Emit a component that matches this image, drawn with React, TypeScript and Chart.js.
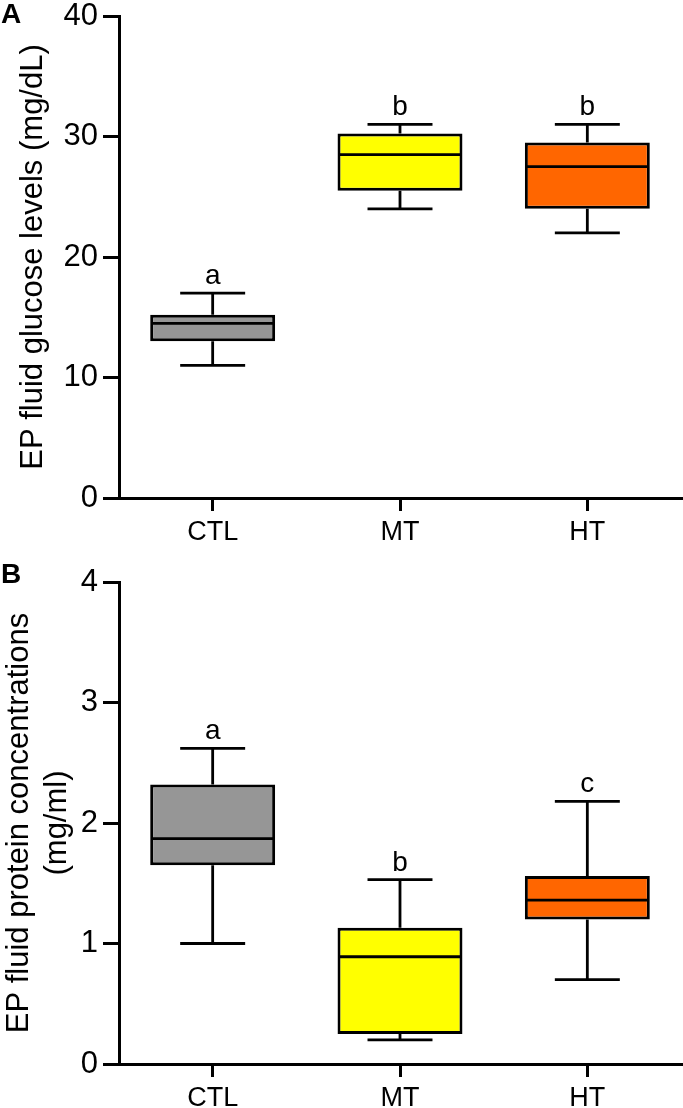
import React, { useEffect, useRef } from 'react';
import { Chart, registerables } from 'chart.js';

Chart.register(...registerables);

const FONT = '"Liberation Sans", Arial, Helvetica, sans-serif';

const categories = ['CTL', 'MT', 'HT'];
const boxColors = ['#969696', '#FFFF00', '#FF6600'];

// Panel A: glucose (mg/dL)
const glucoseMin = [11, 24, 22];
const glucoseQ1 = [13, 25.5, 24];
const glucoseMedian = [14.5, 28.5, 27.5];
const glucoseQ3 = [15.2, 30.25, 29.5];
const glucoseMax = [17, 31, 31];
const glucoseLetters = ['a', 'b', 'b'];
const glucoseTicks = [0, 10, 20, 30, 40];

// Panel B: protein (mg/ml)
const proteinMin = [1.0, 0.2, 0.7];
const proteinQ1 = [1.65, 0.25, 1.2];
const proteinMedian = [1.87, 0.89, 1.36];
const proteinQ3 = [2.32, 1.13, 1.56];
const proteinMax = [2.62, 1.53, 2.18];
const proteinLetters = ['a', 'b', 'c'];
const proteinTicks = [0, 1, 2, 3, 4];

type PanelSpec = {
  panel: string;
  panelY: number;
  min: number[];
  q1: number[];
  median: number[];
  q3: number[];
  max: number[];
  letters: string[];
  ticks: number[];
  title: string | string[];
  titleLineHeight: number;
  titlePadTop: number;
  height: number;
  areaTop: number;
  areaBottom: number;
};

function makeBoxPlugin(spec: PanelSpec) {
  return {
    id: 'boxExtras' + spec.panel,
    afterDatasetsDraw(chart: any) {
      const { ctx } = chart;
      const meta = chart.getDatasetMeta(0);
      const y = chart.scales.y;
      ctx.save();
      ctx.strokeStyle = '#000';
      ctx.fillStyle = '#000';
      ctx.lineWidth = 2.8;
      meta.data.forEach((bar: any, i: number) => {
        const { x, width } = bar.getProps(['x', 'width'], true);
        const half = width / 2;
        const cap = width * 0.26;
        const yMin = y.getPixelForValue(spec.min[i]);
        const yQ1 = y.getPixelForValue(spec.q1[i]);
        const yMed = y.getPixelForValue(spec.median[i]);
        const yQ3 = y.getPixelForValue(spec.q3[i]);
        const yMax = y.getPixelForValue(spec.max[i]);
        ctx.beginPath();
        ctx.moveTo(x - half + 1, yMed);
        ctx.lineTo(x + half - 1, yMed);
        // upper whisker
        ctx.moveTo(x, yQ3);
        ctx.lineTo(x, yMax);
        ctx.moveTo(x - cap, yMax);
        ctx.lineTo(x + cap, yMax);
        // lower whisker
        ctx.moveTo(x, yQ1);
        ctx.lineTo(x, yMin);
        ctx.moveTo(x - cap, yMin);
        ctx.lineTo(x + cap, yMin);
        ctx.stroke();
        ctx.font = `28px ${FONT}`;
        ctx.textAlign = 'center';
        ctx.textBaseline = 'alphabetic';
        ctx.fillText(spec.letters[i], x, yMax - 9);
      });
      ctx.font = `bold 28px ${FONT}`;
      ctx.textAlign = 'left';
      ctx.textBaseline = 'alphabetic';
      ctx.fillText(spec.panel, 1, spec.panelY);
      ctx.restore();
    },
  };
}

function BoxPanel({ spec }: { spec: PanelSpec }) {
  const ref = useRef<HTMLCanvasElement | null>(null);
  useEffect(() => {
    if (!ref.current) return;
    const xHeight = spec.height - spec.areaBottom;
    const chart = new Chart(ref.current, {
      type: 'bar',
      data: {
        labels: categories,
        datasets: [
          {
            data: spec.q1.map((v, i) => [v, spec.q3[i]]) as any,
            backgroundColor: boxColors,
            borderColor: '#000',
            borderWidth: 3,
            borderSkipped: false,
            barPercentage: 0.667,
            categoryPercentage: 1,
          },
        ],
      },
      options: {
        responsive: false,
        animation: false,
        devicePixelRatio: 1,
        layout: { padding: { top: spec.areaTop, left: 0, right: 2, bottom: 0 } },
        plugins: { legend: { display: false }, tooltip: { enabled: false } },
        scales: {
          x: {
            type: 'category',
            offset: true,
            grid: {
              offset: false,
              drawOnChartArea: false,
              color: '#000',
              tickColor: '#000',
              tickLength: 13,
              lineWidth: 3,
              tickWidth: 3,
            },
            border: { color: '#000', width: 3 },
            ticks: { color: '#000', font: { family: FONT, size: 27 }, padding: 5, maxRotation: 0 },
            afterFit: (s: any) => {
              s.height = xHeight;
              s.paddingLeft = 0;
              s.paddingRight = 0;
            },
          },
          y: {
            min: spec.ticks[0],
            max: spec.ticks[spec.ticks.length - 1],
            afterBuildTicks: (s: any) => {
              s.ticks = spec.ticks.map((v) => ({ value: v }));
            },
            grid: {
              drawOnChartArea: false,
              color: '#000',
              tickColor: '#000',
              tickLength: 16,
              lineWidth: 3,
              tickWidth: 3,
            },
            border: { color: '#000', width: 3 },
            ticks: { color: '#000', font: { family: FONT, size: 31 }, padding: 5 },
            title: {
              display: true,
              text: spec.title,
              color: '#000',
              font: { family: FONT, size: 31, lineHeight: spec.titleLineHeight },
              padding: { top: spec.titlePadTop, bottom: 0 },
            },
            afterFit: (s: any) => {
              s.width = 119;
              s.paddingTop = 0;
              s.paddingBottom = 0;
            },
          },
        },
      } as any,
      plugins: [makeBoxPlugin(spec)],
    });
    return () => chart.destroy();
  }, [spec]);
  return (
    <canvas
      ref={ref}
      width={683}
      height={spec.height}
      style={{ display: 'block', width: 683, height: spec.height }}
    />
  );
}

const specA: PanelSpec = {
  panel: 'A',
  panelY: 23,
  min: glucoseMin,
  q1: glucoseQ1,
  median: glucoseMedian,
  q3: glucoseQ3,
  max: glucoseMax,
  letters: glucoseLetters,
  ticks: glucoseTicks,
  title: 'EP fluid glucose levels (mg/dL)',
  titleLineHeight: 1.2,
  titlePadTop: 15,
  height: 550,
  areaTop: 16,
  areaBottom: 498,
};

const specB: PanelSpec = {
  panel: 'B',
  panelY: 33,
  min: proteinMin,
  q1: proteinQ1,
  median: proteinMedian,
  q3: proteinQ3,
  max: proteinMax,
  letters: proteinLetters,
  ticks: proteinTicks,
  title: ['EP fluid protein concentrations', '(mg/ml)'],
  titleLineHeight: 1.226,
  titlePadTop: 0,
  height: 558,
  areaTop: 32,
  areaBottom: 514,
};

export default function App() {
  return (
    <div
      style={{
        position: 'absolute',
        left: 0,
        top: 0,
        width: 683,
        height: 1108,
        background: '#fff',
        overflow: 'hidden',
      }}
    >
      <BoxPanel spec={specA} />
      <BoxPanel spec={specB} />
    </div>
  );
}
